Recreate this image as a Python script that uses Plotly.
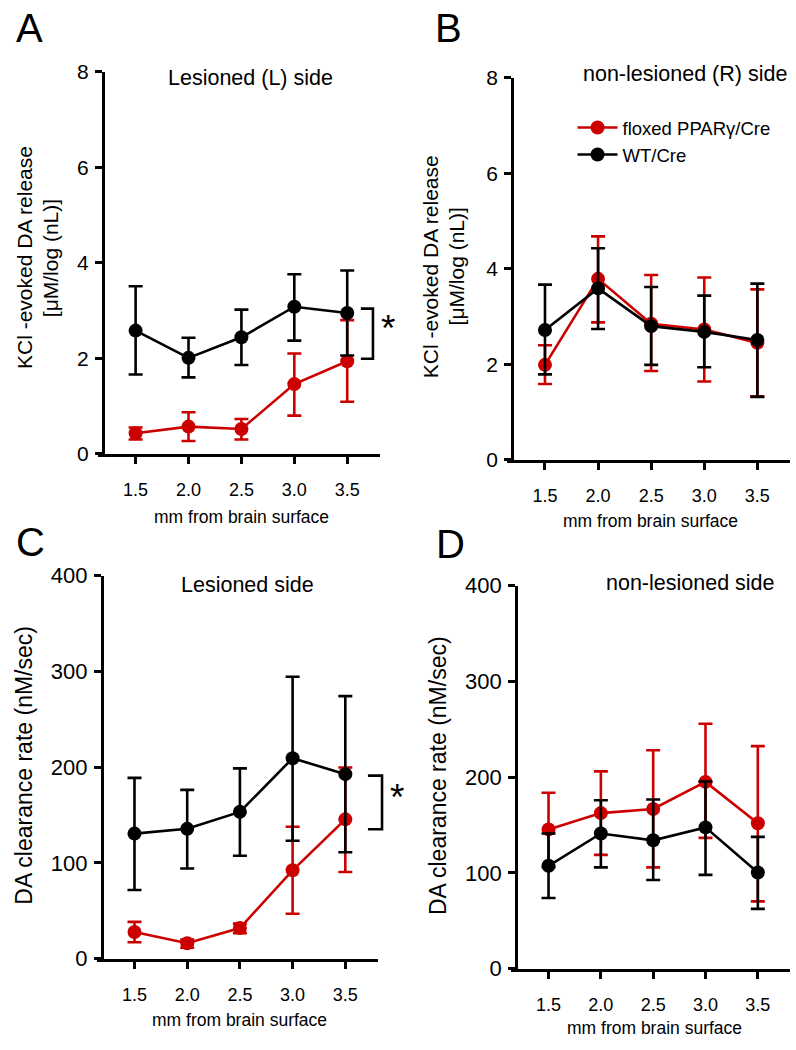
import plotly.graph_objects as go

# ---------------- data ----------------
depth = [1.5, 2.0, 2.5, 3.0, 3.5]
depth_labels = ["1.5", "2.0", "2.5", "3.0", "3.5"]

# Panel A: KCl-evoked DA release, lesioned (L) side
A_wt_mean = [2.58, 2.01, 2.44, 3.08, 2.95]
A_wt_up = [3.51, 2.43, 3.02, 3.76, 3.84]
A_wt_lo = [1.66, 1.60, 1.86, 2.37, 2.06]
A_fl_mean = [0.43, 0.57, 0.52, 1.46, 1.94]
A_fl_up = [0.55, 0.87, 0.73, 2.10, 2.80]
A_fl_lo = [0.30, 0.27, 0.30, 0.80, 1.09]

# Panel B: KCl-evoked DA release, non-lesioned (R) side
B_fl_mean = [1.99, 3.79, 2.85, 2.73, 2.45]
B_fl_up = [2.40, 4.68, 3.87, 3.82, 3.57]
B_fl_lo = [1.59, 2.88, 1.86, 1.64, 1.33]
B_wt_mean = [2.72, 3.59, 2.80, 2.68, 2.51]
B_wt_up = [3.67, 4.43, 3.62, 3.44, 3.69]
B_wt_lo = [1.79, 2.74, 1.99, 1.94, 1.32]

# Panel C: DA clearance rate, lesioned side
C_wt_mean = [130.5, 135.5, 153.2, 209.2, 192.6]
C_wt_up = [188.7, 176.2, 198.6, 294.3, 274.1]
C_wt_lo = [71.6, 94.0, 107.4, 123.0, 111.0]
C_fl_mean = [27.7, 16.0, 31.9, 92.2, 145.4]
C_fl_up = [38.3, 20.0, 36.5, 137.6, 199.6]
C_fl_lo = [17.0, 11.3, 26.6, 46.8, 90.4]

# Panel D: DA clearance rate, non-lesioned side
D_fl_mean = [145.4, 162.4, 166.7, 195.0, 151.8]
D_fl_up = [183.7, 206.0, 228.0, 255.7, 232.3]
D_fl_lo = [105.7, 118.8, 105.7, 136.5, 70.2]
D_wt_mean = [107.4, 141.1, 134.0, 147.5, 100.4]
D_wt_up = [141.1, 175.9, 176.6, 195.4, 137.6]
D_wt_lo = [73.8, 105.7, 92.6, 97.9, 62.4]

# significance brackets (value range on y axis)
A_bracket = [1.99, 3.04]
C_bracket = [135.0, 191.0]

RED = "#cc0000"
BLACK = "#000000"
FONT = "Arial, Liberation Sans, sans-serif"
W, H = 796, 1050
SX, SY = 1.008, 1.03


def px(x):
    return min(x * SX, W) / W


def py(y):
    return 1 - (500 + (y - 500) * SY) / H


fig = go.Figure()


def add_series(xa, ya, mean, up, lo, color, name, showlegend):
    fig.add_trace(go.Scatter(
        x=depth, y=mean, xaxis=xa, yaxis=ya, name=name,
        mode="lines+markers", showlegend=showlegend,
        line=dict(color=color, width=2.6),
        marker=dict(color=color, size=14),
        error_y=dict(type="data", symmetric=False,
                     array=[u - m for u, m in zip(up, mean)],
                     arrayminus=[m - l for m, l in zip(mean, lo)],
                     color=color, thickness=2.6, width=7),
        cliponaxis=False,
    ))


add_series("x", "y", A_fl_mean, A_fl_up, A_fl_lo, RED, "floxed PPARγ/Cre", False)
add_series("x", "y", A_wt_mean, A_wt_up, A_wt_lo, BLACK, "WT/Cre", False)
add_series("x2", "y2", B_fl_mean, B_fl_up, B_fl_lo, RED, "floxed PPARγ/Cre", True)
add_series("x2", "y2", B_wt_mean, B_wt_up, B_wt_lo, BLACK, "WT/Cre", True)
add_series("x3", "y3", C_fl_mean, C_fl_up, C_fl_lo, RED, "floxed PPARγ/Cre", False)
add_series("x3", "y3", C_wt_mean, C_wt_up, C_wt_lo, BLACK, "WT/Cre", False)
add_series("x4", "y4", D_fl_mean, D_fl_up, D_fl_lo, RED, "floxed PPARγ/Cre", False)
add_series("x4", "y4", D_wt_mean, D_wt_up, D_wt_lo, BLACK, "WT/Cre", False)

OVERHANG = 5  # x-axis line starts a few px left of the y-axis line
XMIN, XMAX = 1.19, 3.81


def xaxis(left, right, anchor, size):
    unit = (right - left) / (XMAX - XMIN)
    return dict(domain=[px(left - OVERHANG), px(right)], anchor=anchor,
                range=[XMIN - OVERHANG / unit, XMAX],
                tickmode="array", tickvals=depth, ticktext=depth_labels,
                ticks="outside", ticklen=7, tickwidth=2.6, tickcolor=BLACK,
                showline=True, linewidth=3, linecolor=BLACK,
                showgrid=False, zeroline=False, ticklabelstandoff=11,
                tickfont=dict(size=size, color=BLACK, family=FONT))


def yaxis(domain, anchor, xpos, rng, dtick, size):
    return dict(domain=domain, anchor="free", overlaying=None, position=px(xpos),
                range=rng, tickmode="linear", tick0=0, dtick=dtick,
                ticks="outside", ticklen=7, tickwidth=2.6, tickcolor=BLACK,
                showline=True, linewidth=3, linecolor=BLACK,
                showgrid=False, zeroline=False, ticklabelstandoff=2,
                tickfont=dict(size=size, color=BLACK, family=FONT))


fig.update_layout(
    width=W, height=H, margin=dict(l=0, r=0, t=0, b=0),
    paper_bgcolor="white", plot_bgcolor="white",
    font=dict(family=FONT, color=BLACK),
    xaxis=xaxis(102, 377, "y", 18),
    yaxis=yaxis([py(454), py(74)], "x", 102, [0, 8], 2, 21),
    xaxis2=xaxis(508, 784, "y2", 18),
    yaxis2=yaxis([py(460), py(80)], "x2", 508, [0, 8], 2, 21),
    xaxis3=xaxis(101, 375, "y3", 18),
    yaxis3=yaxis([py(956), py(575)], "x3", 101, [0, 400], 100, 22),
    xaxis4=xaxis(512, 784, "y4", 18),
    yaxis4=yaxis([py(966), py(585)], "x4", 512, [0, 400], 100, 22),
    legend=dict(x=px(568), y=py(111), xanchor="left", yanchor="top",
                font=dict(size=18.5, color=BLACK, family=FONT),
                bgcolor="rgba(0,0,0,0)", tracegroupgap=0, itemwidth=40),
    showlegend=True,
)

ann = []


def text(x, y, s, size, angle=0):
    ann.append(dict(x=px(x), y=py(y), xref="paper", yref="paper", text=s,
                    showarrow=False, textangle=angle, xanchor="center",
                    yanchor="middle", font=dict(size=size, color=BLACK, family=FONT)))


# panel letters
text(29, 30, "A", 40)
text(445, 30, "B", 40)
text(30, 542, "C", 40)
text(447, 544, "D", 40)
# panel titles
text(249, 80, "Lesioned (L) side", 21.5)
text(680, 76, "non-lesioned (R) side", 21.5)
text(246, 584, "Lesioned side", 21.5)
text(685, 582, "non-lesioned side", 21.5)
# x titles
text(240, 517, "mm from brain surface", 17.5)
text(645, 521, "mm from brain surface", 17.5)
text(238, 1017, "mm from brain surface", 17.5)
text(649, 1025, "mm from brain surface", 17.5)
# y titles
text(25, 259, "KCl -evoked DA release", 21, -90)
text(50, 259, "[μM/log (nL)]", 21, -90)
text(427, 268, "KCl -evoked DA release", 21, -90)
text(453, 268, "[μM/log (nL)]", 21, -90)
text(23, 764, "DA clearance rate (nM/sec)", 23, -90)
text(434, 774, "DA clearance rate (nM/sec)", 23, -90)

# significance brackets
shapes = []


def bracket(yref, rng, x_in, x_out, star_x):
    lo, hi = rng
    path = (f"M {px(x_in)},{hi} L {px(x_out)},{hi} L {px(x_out)},{lo} L {px(x_in)},{lo}")
    shapes.append(dict(type="path", xref="paper", yref=yref, path=path,
                       line=dict(color=BLACK, width=2.6)))
    ann.append(dict(x=px(star_x), y=(lo + hi) / 2, xref="paper", yref=yref,
                    text="*", showarrow=False, xanchor="center", yanchor="middle",
                    yshift=5, font=dict(size=37, color=BLACK, family=FONT)))


bracket("y", A_bracket, 358, 370, 385)
bracket("y3", C_bracket, 365, 379, 394)

fig.update_layout(annotations=ann, shapes=shapes)
fig.write_html("out.html", config={"displayModeBar": False},
               post_script="document.body.style.margin='0px';")
